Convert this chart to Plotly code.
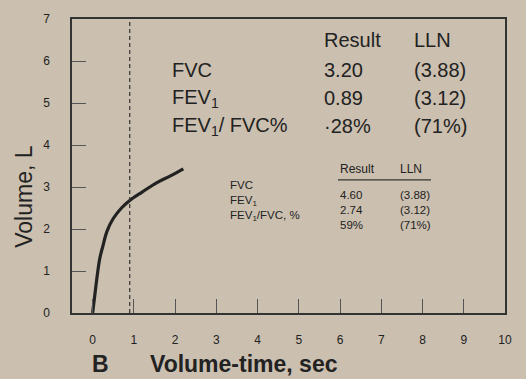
import plotly.graph_objects as go

# Volume-time curve (seconds, litres)
time_s = [0, 0.05, 0.1, 0.17, 0.25, 0.35, 0.5, 0.7, 0.9, 1.2, 1.55, 1.9, 2.2]
volume_l = [0, 0.4, 0.8, 1.28, 1.6, 1.95, 2.25, 2.5, 2.68, 2.88, 3.1, 3.27, 3.43]
fev1_time = 0.9

x_ticks = list(range(0, 11))
y_ticks = list(range(0, 8))

big_labels = ["FVC", "FEV<sub>1</sub>", "FEV<sub>1</sub>/ FVC%"]
big_result = ["3.20", "0.89", "·28%"]
big_lln = ["(3.88)", "(3.12)", "(71%)"]

small_labels = ["FVC", "FEV<sub>1</sub>", "FEV<sub>1</sub>/FVC, %"]
small_result = ["4.60", "2.74", "59%"]
small_lln = ["(3.88)", "(3.12)", "(71%)"]

BG = "#cbbfaf"
INK = "#222222"
W, H = 526, 379
L, R, T, B = 72, 21, 17, 66
PW, PH = W - L - R, H - T - B


def px(x):
    return (x - L) / PW


def py(y):
    return (H - B - y) / PH


fig = go.Figure()
fig.add_trace(go.Scatter(x=time_s, y=volume_l, mode="lines",
                         line=dict(color=INK, width=3.2, shape="spline"),
                         hoverinfo="skip"))

fig.add_vline(x=fev1_time, line=dict(color="#333", width=1.2, dash="4px,3px"))

ann = []


def text(s, x, y, size, anchor="left", bold=False, angle=0):
    ann.append(dict(text=("<b>%s</b>" % s) if bold else s, xref="paper", yref="paper",
                    x=px(x), y=py(y), xanchor=anchor, yanchor="middle",
                    showarrow=False, textangle=angle, align="left",
                    font=dict(family="Arial, Liberation Sans", size=size, color=INK)))


# Big table
text("Result", 322, 38, 20)
text("LLN", 412, 38, 20)
for i, yy in enumerate([68, 97, 125]):
    text(big_labels[i], 170, yy, 20)
    text(big_result[i], 322, yy, 20)
    text(big_lln[i], 412, yy, 20)

# Small table
text("Result", 338, 168, 12)
text("LLN", 398, 168, 12)
text("<br>".join(small_labels), 228, 200, 11.5)
text("<br>".join(small_result), 338, 209, 11.5)
text("<br>".join(small_lln), 398, 209, 11.5)

# Axis titles
text("B", 100, 364, 23, anchor="center", bold=True)
text("Volume-time, sec", 244, 364, 23, anchor="center", bold=True)
text("Volume, L", 24, 196, 23, anchor="center", angle=-90)

fig.update_layout(annotations=ann)
fig.add_shape(type="line", xref="paper", yref="paper",
              x0=px(338), x1=px(431), y0=py(179), y1=py(179),
              line=dict(color="#333", width=1.2))

axis_common = dict(showgrid=False, zeroline=False, showline=True, mirror=True,
                   linecolor="#333", linewidth=1.5, ticks="inside", ticklen=14,
                   tickwidth=1, tickcolor="#555",
                   tickfont=dict(family="Arial, Liberation Sans", size=12, color=INK))

fig.update_xaxes(range=[-0.5, 10], tickvals=x_ticks, ticklabelstandoff=15, **axis_common)
fig.update_yaxes(range=[0, 7], tickvals=y_ticks, ticklabelstandoff=18, **axis_common)

fig.update_layout(width=W, height=H, margin=dict(l=L, r=R, t=T, b=B),
                  paper_bgcolor=BG, plot_bgcolor=BG, showlegend=False)

fig.write_html("out.html")
